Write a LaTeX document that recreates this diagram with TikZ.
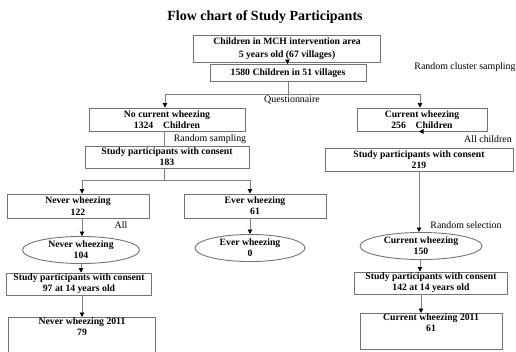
\documentclass[tikz,border=0pt]{standalone}
\usepackage{fontspec}
\setmainfont{Liberation Serif}
\usetikzlibrary{arrows.meta,shapes.geometric}
\tikzset{
  stage/.style={draw=black!55, line width=0.9pt, font=\fontsize{9.7}{11.3}\selectfont\bfseries,
    align=center, inner sep=0.5pt},
  oval/.style={stage, ellipse},
  link/.style={draw=black!50, line width=0.9pt},
  flow/.style={link, -{Triangle[black, length=4.5pt, width=4.5pt]}},
  note/.style={font=\fontsize{9.9}{11}\selectfont},
  heading/.style={font=\fontsize{14}{16}\selectfont\bfseries, inner sep=0pt}
}
\begin{document}
\begin{tikzpicture}[x=1pt, y=-1pt]
    \useasboundingbox (0,0) rectangle (516,351);
    \clip (0,0) rectangle (516,351);
    % title
    \node[heading] (title) at (265,17) {Flow chart of Study Participants};
    % boxes
    \node[stage, minimum width=187pt, minimum height=27pt, font=\fontsize{9.7}{13}\selectfont\bfseries] (area) at (287,48.5)
        {Children in MCH intervention area\\5 years old (67 villages)};
    \node[stage, minimum width=156pt, minimum height=17pt] (all) at (288,73) {1580 Children in 51 villages};
    \node[stage, minimum width=156pt, minimum height=23pt] (nocur) at (167,119.5) {No current wheezing\\1324\quad Children};
    \node[stage, minimum width=130pt, minimum height=23pt] (cur) at (422,119.5) {Current wheezing\\256\quad Children};
    \node[stage, minimum width=164pt, minimum height=22pt] (consA) at (167,157) {Study participants with consent\\183};
    \node[stage, minimum width=188pt, minimum height=23pt] (consB) at (419,160) {Study participants with consent\\219};
    \node[stage, minimum width=142pt, minimum height=24pt] (never) at (78,206) {Never wheezing\\122};
    \node[stage, minimum width=142pt, minimum height=24pt] (ever) at (255,206) {Ever wheezing\\61};
    \node[oval, minimum width=117pt, minimum height=25pt] (neverO) at (81,250) {Never wheezing\\104};
    \node[oval, minimum width=110pt, minimum height=27pt] (everO) at (250,248) {Ever wheezing\\0};
    \node[oval, minimum width=122pt, minimum height=25pt] (curO) at (421,246) {Current wheezing\\150};
    \node[stage, minimum width=145pt, minimum height=22pt] (consC) at (79,284) {Study participants with consent\\97 at 14 years old};
    \node[stage, minimum width=153pt, minimum height=22pt] (consD) at (431,283) {Study participants with consent\\142 at 14 years old};
    \node[stage, minimum width=147pt, minimum height=34pt, anchor=north] (never11) at (82,317) {Never wheezing 2011\\79\\[6pt]};
    \node[stage, minimum width=142pt, minimum height=36pt, anchor=north] (cur11) at (431,313) {Current wheezing 2011\\61\\[6pt]};
    % labels
    \node[note] (cluster) at (465,67) {Random cluster sampling};
    \node[note] (quest) at (292,100) {Questionnaire};
    \node[note] (rsamp) at (210,139) {Random sampling};
    \node[note] (allch) at (488,139) {All children};
    \node[note] (rsel) at (466,225) {Random selection};
    \node[note] (alln) at (121,225) {All};
    % connectors
    \coordinate (splitA) at (288,94);
    \coordinate (splitB) at (164,180);
    \draw[flow] (area) -- (all);
    \draw[link] (all) -- (splitA);
    \draw[flow] (splitA) -| ([xshift=-2pt]nocur.north);
    \draw[flow] (splitA) -| ([xshift=-2pt]cur.north);
    \draw[link] ([xshift=-3pt]nocur.south) -- ([xshift=-3pt]nocur.south |- consA.north);
    \draw[link] (consA.south -| splitB) -- (splitB);
    \draw[flow] (splitB) -| ([xshift=4pt]never.north);
    \draw[flow] (splitB) -| ([xshift=-5pt]ever.north);
    \draw[flow] ([xshift=-2pt]cur.south) -- (cur.south -| consB.north);
    \draw[flow] (consB) -- (consB.south |- curO.north);
    \draw[flow] ([xshift=4pt]never.south) -- ([xshift=4pt]never.south |- neverO.north);
    \draw[flow] ([xshift=-5pt]ever.south) -- ([xshift=-5pt]ever.south |- everO.north);
    \draw[flow] (neverO) -- (neverO.south |- consC.north);
    \draw[flow] ([xshift=3pt]consC.south) -- ([xshift=3pt]consC.south |- never11.north);
    \draw[flow] ([xshift=-1pt]curO.south) -- ([xshift=-1pt]curO.south |- consD.north);
    \draw[flow] (curO.south |- consD.south) -- (curO.south |- cur11.north);
\end{tikzpicture}
\end{document}
